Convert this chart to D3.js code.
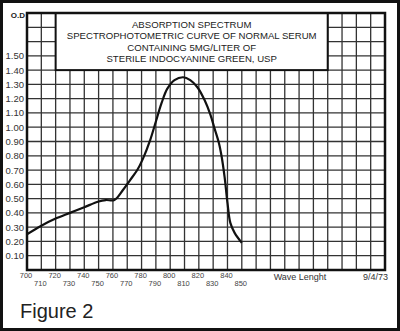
<!DOCTYPE html>
<html>
<head>
<meta charset="utf-8">
<script src="https://cdn.jsdelivr.net/npm/d3@7"></script>
<style>
  body { margin: 0; background: #fff; }
  svg { display: block; font-family: "Liberation Sans", Arial, sans-serif; }
</style>
</head>
<body>
<svg id="chart" width="400" height="331"></svg>
<script>
// Curve
const wavelengths = [700, 710, 720, 730, 740, 750, 755, 761, 767, 772, 777, 781, 786, 790, 794, 798, 803, 809, 814, 819, 824, 828, 831, 834, 836, 838, 840, 842, 845, 850];
const odValues    = [0.25, 0.31, 0.36, 0.40, 0.44, 0.48, 0.49, 0.49, 0.56, 0.63, 0.70, 0.78, 0.91, 1.04, 1.17, 1.27, 1.33, 1.35, 1.33, 1.28, 1.19, 1.09, 0.99, 0.89, 0.79, 0.65, 0.47, 0.33, 0.26, 0.19];

const xTicks = [700, 710, 720, 730, 740, 750, 760, 770, 780, 790, 800, 810, 820, 830, 840, 850];
const yTicks = [0.10, 0.20, 0.30, 0.40, 0.50, 0.60, 0.70, 0.80, 0.90, 1.00, 1.10, 1.20, 1.30, 1.40, 1.50];
const titleLines = [
  "ABSORPTION SPECTRUM",
  "SPECTROPHOTOMETRIC CURVE OF NORMAL SERUM",
  "CONTAINING 5MG/LITER OF",
  "STERILE INDOCYANINE GREEN, USP"
];

const svg = d3.select("#chart");
const plotLeft = 27, plotRight = 385, plotTop = 13, plotBottom = 270;

const x = d3.scaleLinear().domain([700, 950]).range([plotLeft, plotRight]);
const y = d3.scaleLinear().domain([0, 1.8]).range([plotBottom, plotTop]);

// outer frame
svg.append("rect")
  .attr("x", 1.5).attr("y", 1.5).attr("width", 397).attr("height", 328)
  .attr("fill", "none").attr("stroke", "#111").attr("stroke-width", 3);

// grid
const grid = svg.append("g").attr("stroke", "#333").attr("stroke-width", 1.3);
grid.selectAll(".v").data(d3.range(710, 950, 10)).join("line")
  .attr("x1", d => x(d)).attr("x2", d => x(d))
  .attr("y1", plotTop).attr("y2", plotBottom);
grid.selectAll(".h").data(d3.range(1, 18).map(i => i / 10)).join("line")
  .attr("x1", plotLeft).attr("x2", plotRight)
  .attr("y1", d => y(d)).attr("y2", d => y(d));

// title box covers part of the grid
svg.append("rect")
  .attr("x", x(720)).attr("y", plotTop)
  .attr("width", x(910) - x(720)).attr("height", y(1.4) - plotTop)
  .attr("fill", "#fff").attr("stroke", "#111").attr("stroke-width", 2);

svg.append("g").selectAll("text").data(titleLines).join("text")
  .attr("x", (x(720) + x(910)) / 2)
  .attr("y", (d, i) => 27.5 + i * 11.6)
  .attr("text-anchor", "middle")
  .attr("font-size", 9.6)
  .attr("fill", "#222")
  .text(d => d);

// plot border
svg.append("rect")
  .attr("x", plotLeft).attr("y", plotTop)
  .attr("width", plotRight - plotLeft).attr("height", plotBottom - plotTop)
  .attr("fill", "none").attr("stroke", "#111").attr("stroke-width", 2.5);

// y labels
svg.append("g").selectAll("text").data(yTicks).join("text")
  .attr("x", 24).attr("y", d => y(d) + 3.5)
  .attr("text-anchor", "end")
  .attr("font-size", 9.5)
  .attr("fill", "#333")
  .text(d => d.toFixed(2));

svg.append("text")
  .attr("x", 25).attr("y", 18)
  .attr("text-anchor", "end")
  .attr("font-size", 8)
  .attr("font-weight", "bold")
  .attr("fill", "#222")
  .text("O.D");

// x labels, staggered
svg.append("g").selectAll("text").data(xTicks).join("text")
  .attr("x", d => x(d) - 1)
  .attr("y", (d, i) => i % 2 === 0 ? 278 : 286)
  .attr("text-anchor", "middle")
  .attr("font-size", 7.5)
  .attr("fill", "#444")
  .text(d => d);

svg.append("text")
  .attr("x", 300).attr("y", 280)
  .attr("text-anchor", "middle")
  .attr("font-size", 9)
  .attr("fill", "#333")
  .text("Wave Lenght");

svg.append("text")
  .attr("x", 388).attr("y", 280)
  .attr("text-anchor", "end")
  .attr("font-size", 9)
  .attr("fill", "#333")
  .text("9/4/73");

svg.append("text")
  .attr("x", 20).attr("y", 318)
  .attr("font-size", 20)
  .attr("fill", "#222")
  .text("Figure 2");

// absorption curve
const line = d3.line()
  .x((d, i) => x(wavelengths[i]))
  .y(d => y(d))
  .curve(d3.curveCatmullRom.alpha(0.5));

svg.append("path")
  .datum(odValues)
  .attr("fill", "none")
  .attr("stroke", "#111")
  .attr("stroke-width", 2.2)
  .attr("d", line);
</script>
</body>
</html>
